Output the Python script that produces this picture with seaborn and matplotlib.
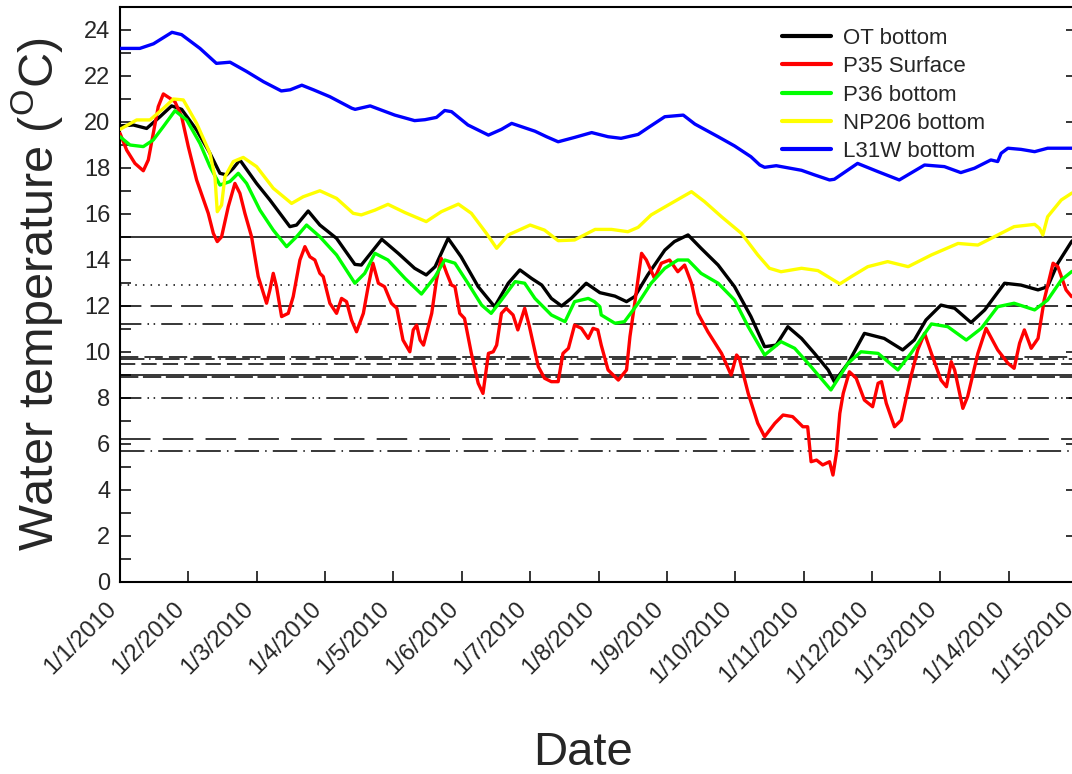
import numpy as np
import pandas as pd
import matplotlib
matplotlib.use("Agg")
import matplotlib.pyplot as plt
import matplotlib.dates as mdates
import matplotlib.transforms as mtransforms
from matplotlib.ticker import MultipleLocator, FuncFormatter
import seaborn as sns

# ---- data: day offset from 1/1/2010 and water temperature (oC) ----
ot_days = [0, 0.195, 0.39, 0.585, 0.755, 0.902, 1.121, 1.316, 1.462, 1.559, 1.657, 1.754, 1.998, 2.193, 2.485, 2.583,
           2.753, 2.924, 3.168, 3.436, 3.53, 3.83, 4.07, 4.31, 4.48, 4.61, 4.80, 4.99, 5.24, 5.48, 5.68, 5.85, 6.02,
           6.17, 6.31, 6.46, 6.60, 6.82, 7.02, 7.24, 7.41, 7.53, 7.72, 7.97, 8.11, 8.31, 8.50, 8.75, 8.99, 9.23, 9.43,
           9.60, 9.77, 9.97, 10.16, 10.36, 10.45, 10.65, 10.89, 11.18, 11.45, 11.62, 11.79, 12.01, 12.21, 12.45,
           12.65, 12.94, 13.18, 13.43, 13.57, 13.72, 13.92, 14.0]
ot_vals = [19.83, 19.87, 19.72, 20.23, 20.7, 20.55, 19.65, 18.64, 17.77, 17.7, 17.99, 18.35, 17.33, 16.61, 15.45, 15.52,
           16.13, 15.52, 14.94, 13.81, 13.78, 14.9, 14.29, 13.64, 13.35, 13.71, 14.94, 14.14, 12.84, 11.97, 12.99, 13.57,
           13.2, 12.91, 12.33, 12.0, 12.33, 12.99, 12.58, 12.43, 12.19, 12.41, 13.35, 14.43, 14.8, 15.09, 14.51, 13.78,
           12.84, 11.54, 10.23, 10.3, 11.1, 10.59, 9.94, 9.22, 8.71, 9.51, 10.81, 10.59, 10.09, 10.52, 11.39, 12.04,
           11.9, 11.28, 11.83, 12.99, 12.91, 12.7, 12.84, 13.86, 14.8, 15.0]

p35_days = [0, 0.097, 0.219, 0.341, 0.414, 0.487, 0.560, 0.634, 0.731, 0.804, 0.902, 0.999, 1.121, 1.291, 1.365, 1.423,
            1.486, 1.584, 1.681, 1.754, 1.827, 1.925, 2.022, 2.144, 2.193, 2.242, 2.290, 2.364, 2.461, 2.534, 2.632,
            2.705, 2.778, 2.851, 2.924, 2.973, 3.070, 3.168, 3.241, 3.314, 3.387, 3.460, 3.56, 3.63, 3.70, 3.78, 3.87,
            3.97, 4.05, 4.14, 4.24, 4.29, 4.34, 4.39, 4.44, 4.56, 4.63, 4.70, 4.78, 4.85, 4.90, 4.97, 5.04, 5.14, 5.24,
            5.31, 5.39, 5.46, 5.51, 5.58, 5.65, 5.75, 5.82, 5.92, 5.99, 6.12, 6.21, 6.31, 6.41, 6.48, 6.56, 6.65, 6.75,
            6.85, 6.92, 6.99, 7.04, 7.14, 7.29, 7.41, 7.46, 7.53, 7.63, 7.70, 7.82, 7.92, 8.04, 8.16, 8.26, 8.36, 8.455,
            8.60, 8.80, 8.94, 9.02, 9.06, 9.19, 9.33, 9.43, 9.58, 9.70, 9.84, 9.99, 10.06, 10.11, 10.19, 10.28, 10.38,
            10.43, 10.48, 10.53, 10.58, 10.67, 10.77, 10.89, 11.01, 11.09, 11.14, 11.21, 11.33, 11.43, 11.57, 11.67,
            11.77, 11.87, 12.01, 12.09, 12.16, 12.21, 12.33, 12.40, 12.55, 12.67, 12.84, 12.99, 13.08, 13.16, 13.23,
            13.33, 13.43, 13.52, 13.65, 13.72, 13.84, 13.92, 14.0]
p35_vals = [19.51, 18.78, 18.2, 17.88, 18.35, 19.51, 20.67, 21.22, 21.03, 20.88, 20.23, 18.93, 17.48, 16.03, 15.16, 14.8,
            15.01, 16.32, 17.33, 16.9, 16.03, 15.01, 13.28, 12.12, 12.7, 13.42, 12.84, 11.54, 11.68, 12.41, 14.0,
            14.58, 14.14, 14.0, 13.42, 13.28, 12.12, 11.68, 12.33, 12.19, 11.39, 10.88, 11.68, 12.84, 13.86, 12.99, 12.84,
            12.12, 11.9, 10.52, 10.01, 10.96, 11.17, 10.52, 10.3, 11.68, 13.13, 14.07, 13.42, 12.91, 12.84, 11.68, 11.46,
            9.94, 8.64, 8.2, 9.94, 10.01, 10.3, 11.68, 11.9, 11.61, 10.96, 11.9, 11.1, 9.36, 8.86, 8.71, 8.71, 9.94,
            10.16, 11.17, 11.03, 10.59, 11.03, 10.96, 10.3, 9.22, 8.78, 9.22, 10.67, 12.12, 14.29, 14.0, 13.2, 13.86,
            14.0, 13.49, 13.78, 12.99, 11.68, 10.88, 9.94, 9.0, 9.87, 9.72, 8.2, 6.9, 6.32, 6.9, 7.26, 7.19, 6.75, 6.75,
            5.23, 5.3, 5.09, 5.23, 4.65, 5.59, 7.33, 8.2, 9.14, 8.86, 7.91, 7.62, 8.64, 8.71, 7.77, 6.75, 7.04, 8.93,
            10.09, 10.81, 9.94, 8.78, 8.49, 9.58, 9.22, 7.55, 8.06, 9.94, 11.03, 10.09, 9.51, 9.29, 10.38, 10.96, 10.16,
            10.59, 12.26, 13.86, 13.71, 12.7, 12.41, 12.4]

p36_days = [0, 0.146, 0.341, 0.487, 0.634, 0.804, 0.975, 1.170, 1.316, 1.462, 1.608, 1.730, 1.852, 2.047, 2.242, 2.437,
            2.583, 2.729, 2.924, 3.168, 3.436, 3.58, 3.73, 3.92, 4.17, 4.41, 4.61, 4.75, 4.90, 5.09, 5.29, 5.43, 5.58,
            5.78, 5.92, 6.07, 6.31, 6.51, 6.65, 6.85, 6.94, 7.02, 7.04, 7.24, 7.38, 7.58, 7.77, 7.97, 8.16, 8.31, 8.50,
            8.75, 8.99, 9.19, 9.43, 9.67, 9.87, 10.11, 10.40, 10.65, 10.84, 11.09, 11.38, 11.57, 11.87, 12.11, 12.38,
            12.60, 12.84, 13.08, 13.38, 13.57, 13.77, 13.92, 14.0]
p36_vals = [19.36, 19.0, 18.93, 19.22, 19.8, 20.49, 20.09, 19.07, 18.06, 17.26, 17.41, 17.77, 17.33, 16.17, 15.3, 14.58,
            15.01, 15.52, 15.01, 14.22, 12.99, 13.42, 14.29, 14.0, 13.2, 12.52, 13.28, 14.0, 13.86, 12.99, 12.04, 11.68,
            12.26, 13.06, 12.99, 12.33, 11.61, 11.32, 12.19, 12.33, 12.19, 11.97, 11.61, 11.25, 11.32, 12.12, 12.99,
            13.64, 14.0, 14.0, 13.42, 12.99, 12.26, 11.1, 9.87, 10.45, 10.16, 9.36, 8.35, 9.51, 10.01, 9.94, 9.22, 9.94,
            11.22, 11.1, 10.52, 11.03, 11.97, 12.12, 11.83, 12.26, 13.13, 13.49, 13.6]

np206_days = [0, 0.244, 0.439, 0.634, 0.780, 0.926, 1.121, 1.316, 1.389, 1.423, 1.486, 1.535, 1.657, 1.803, 1.998,
              2.242, 2.510, 2.680, 2.924, 3.168, 3.411, 3.53, 3.73, 3.92, 4.17, 4.48, 4.70, 4.95, 5.14, 5.36, 5.51,
              5.68, 6.0, 6.21, 6.41, 6.65, 6.95, 7.19, 7.43, 7.58, 7.77, 8.02, 8.36, 8.55, 8.80, 9.09, 9.33, 9.50, 9.67,
              9.97, 10.21, 10.53, 10.70, 10.94, 11.23, 11.53, 11.87, 12.26, 12.55, 12.79, 13.08, 13.38, 13.45, 13.50,
              13.57, 13.77, 13.92, 14.0]
np206_vals = [19.68, 20.09, 20.09, 20.59, 21.0, 20.96, 19.94, 18.64, 17.62, 16.1, 16.39, 17.62, 18.28, 18.46, 18.06,
              17.12, 16.46, 16.75, 17.01, 16.68, 16.03, 15.96, 16.17, 16.42, 16.06, 15.67, 16.1, 16.43, 16.03, 15.16,
              14.51, 15.09, 15.52, 15.3, 14.84, 14.87, 15.33, 15.33, 15.23, 15.42, 15.96, 16.39, 16.97, 16.54, 15.88,
              15.16, 14.22, 13.64, 13.49, 13.64, 13.54, 12.96, 13.28, 13.71, 13.93, 13.71, 14.22, 14.72, 14.65, 15.01,
              15.45, 15.55, 15.38, 15.09, 15.88, 16.61, 16.9, 17.0]

l31w_days = [0, 0.29, 0.49, 0.76, 0.90, 1.17, 1.41, 1.61, 1.85, 2.10, 2.36, 2.49, 2.66, 2.83, 3.07, 3.39, 3.44, 3.66,
             4.02, 4.31, 4.46, 4.63, 4.75, 4.85, 5.09, 5.39, 5.58, 5.73, 6.07, 6.24, 6.41, 6.65, 6.90, 7.14, 7.33, 7.58,
             7.75, 7.97, 8.24, 8.41, 8.75, 8.99, 9.23, 9.36, 9.43, 9.60, 9.97, 10.16, 10.38, 10.45, 10.79, 11.09,
             11.40, 11.77, 12.06, 12.30, 12.50, 12.74, 12.84, 12.89, 12.99, 13.18, 13.38, 13.57, 13.92, 14.0]
l31w_vals = [23.2, 23.2, 23.4, 23.9, 23.8, 23.2, 22.55, 22.6, 22.2, 21.75, 21.35, 21.4, 21.6, 21.4, 21.1, 20.6, 20.55,
             20.7, 20.3, 20.06, 20.1, 20.2, 20.5, 20.45, 19.87, 19.43, 19.68, 19.94, 19.6, 19.36, 19.14, 19.33, 19.54,
             19.36, 19.29, 19.46, 19.8, 20.23, 20.3, 19.91, 19.36, 18.96, 18.49, 18.13, 18.03, 18.1, 17.9, 17.7, 17.48,
             17.51, 18.2, 17.84, 17.48, 18.13, 18.06, 17.8, 17.99, 18.35, 18.28, 18.64, 18.86, 18.81, 18.71, 18.86,
             18.86, 18.85]

series_names = ["OT bottom", "P35 Surface", "P36 bottom", "NP206 bottom", "L31W bottom"]
series_colors = ["#000000", "#FF0000", "#00FF00", "#FFFF00", "#0000FF"]

# reference (threshold) lines
ref_levels = [15.0, 12.9, 12.0, 11.2, 9.8, 9.7, 9.5, 9.0, 8.9, 8.0, 6.2, 5.7]
ref_styles = ["solid", (0, (1, 4)), (0, (14, 6)), (0, (14, 4, 1, 3, 1, 4)), (0, (12, 4)), (0, (16, 3, 1, 3)),
              (0, (10, 4)), "solid", (0, (12, 3)), (0, (14, 4, 1, 3, 1, 4)), (0, (20, 8)), (0, (16, 4, 1, 4))]

start = pd.Timestamp("2010-01-01")
frames = []
for name, d, v in zip(series_names,
                      [ot_days, p35_days, p36_days, np206_days, l31w_days],
                      [ot_vals, p35_vals, p36_vals, np206_vals, l31w_vals]):
    frames.append(pd.DataFrame({"Date": start + pd.to_timedelta(np.array(d), unit="D"),
                                "Temp": v, "Station": name}))
df = pd.concat(frames, ignore_index=True)

sns.set_style("white")
plt.rcParams["font.family"] = ["Liberation Sans", "DejaVu Sans"]

fig = plt.figure(figsize=(10.72, 7.74), dpi=100)
ax = fig.add_axes([120 / 1072, 1 - 582 / 774, 957 / 1072, 575 / 774])

for lvl, ls in zip(ref_levels, ref_styles):
    ax.axhline(lvl, color="black", lw=1.1, ls=ls, zorder=1)

sns.lineplot(data=df, x="Date", y="Temp", hue="Station", hue_order=series_names,
             palette=dict(zip(series_names, series_colors)), estimator=None, sort=True,
             linewidth=2.4, ax=ax, zorder=3)

ax.set_xlim(start, start + pd.Timedelta(days=14))
ax.set_ylim(0, 25)
ax.yaxis.set_major_locator(MultipleLocator(2))
ax.yaxis.set_minor_locator(MultipleLocator(1))
ax.xaxis.set_major_locator(mdates.DayLocator())
ax.xaxis.set_major_formatter(FuncFormatter(
    lambda x, pos: (lambda d: f"{d.month}/{d.day}/{d.year}")(mdates.num2date(x))))

ax.tick_params(axis="both", which="both", direction="in", length=8, width=1.3, labelsize=17)
ax.tick_params(axis="y", which="both", left=True, right=True, pad=7)
ax.tick_params(axis="y", which="minor", right=False)
ax.tick_params(axis="x", which="major", bottom=True, pad=17)
shift = mtransforms.ScaledTranslation(-7 / 100, 0, fig.dpi_scale_trans)
for lab in ax.get_xticklabels():
    lab.set_rotation(45)
    lab.set_ha("right")
    lab.set_va("center")
    lab.set_rotation_mode("anchor")
    lab.set_transform(lab.get_transform() + shift)

for sp in ax.spines.values():
    sp.set_linewidth(1.5)
    sp.set_color("black")

ax.set_ylabel("Water temperature ($\\mathregular{^{O}}$C)", fontsize=35)
ax.yaxis.set_label_coords(-0.057, 0.5)
ax.set_xlabel("Date", fontsize=34)
ax.xaxis.set_label_coords(0.484, -0.259)

leg = ax.legend(loc="upper left", bbox_to_anchor=(773 / 1072, 1 - 19 / 774), bbox_transform=fig.transFigure,
                frameon=False, fontsize=16, handlelength=2.2, handletextpad=0.55, labelspacing=0.33,
                borderaxespad=0)
for h in leg.get_lines():
    h.set_linewidth(3)

fig.savefig("out.png", dpi=100)
